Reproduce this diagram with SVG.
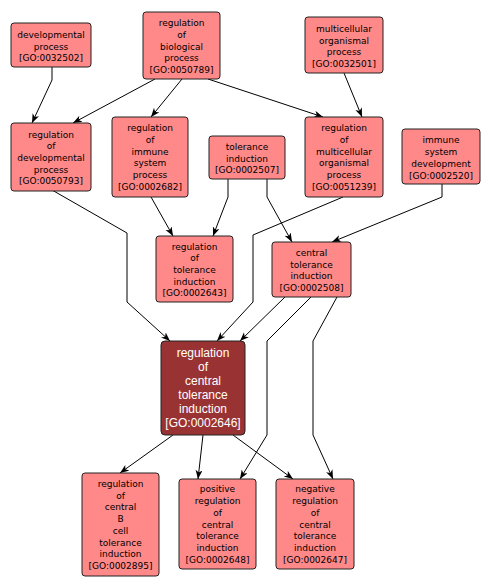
<svg xmlns="http://www.w3.org/2000/svg" width="490" height="588" viewBox="0 0 490 588">
<style>
.n rect{fill:#ff8888;stroke:#222;stroke-width:1}
.n text{font-family:"DejaVu Sans",sans-serif;font-size:9px;fill:#000;text-anchor:middle}
.m rect{fill:#993333;stroke:#222;stroke-width:1}
.m text{font-family:"Liberation Sans",Arial,sans-serif;font-size:12px;fill:#fff;text-anchor:middle}
.e path{fill:none;stroke:#000;stroke-width:1;marker-end:url(#a)}
</style>
<defs>
<marker id="a" markerUnits="userSpaceOnUse" markerWidth="10" markerHeight="8" refX="9" refY="3.5" orient="auto">
<path d="M0,0 L9,3.5 L0,7 L2.5,3.5 z" fill="#000"/>
</marker>
</defs>
<rect width="490" height="588" fill="#fff"/>
<g id="edges" class="e">
<path d="M52,67 L52,80 L32,123"/>
<path d="M155,79 L73,123"/>
<path d="M182,79 L151,117"/>
<path d="M208,79 L323,117"/>
<path d="M344,73 L362,117"/>
<path d="M52,190 L127,233 L127,302 L170,341"/>
<path d="M151,197 L173,236"/>
<path d="M228,179 L228,197 L213,236"/>
<path d="M267,179 L267,197 L292,242"/>
<path d="M442,184 L442,197 L332,242"/>
<path d="M343,197 L253,235 L253,302 L217,341"/>
<path d="M285,297 L240,341"/>
<path d="M311,297 L267,341 L267,435 L240,479"/>
<path d="M337,297 L313,341 L313,435 L333,479"/>
<path d="M173,435 L120,473"/>
<path d="M203,435 L198,479"/>
<path d="M233,435 L293,479"/>
</g>
<g id="GO0032502" class="n"><rect x="11" y="23" width="80" height="44" rx="3"/>
<text x="51" y="37.8">developmental</text><text x="51" y="49.5">process</text><text x="51" y="61.2">[GO:0032502]</text></g>
<g id="GO0050789" class="n"><rect x="143" y="12" width="77" height="67" rx="3"/>
<text x="181.5" y="26.1">regulation</text><text x="181.5" y="37.8">of</text><text x="181.5" y="49.5">biological</text><text x="181.5" y="61.2">process</text><text x="181.5" y="72.9">[GO:0050789]</text></g>
<g id="GO0032501" class="n"><rect x="305" y="17" width="78" height="56" rx="3"/>
<text x="344" y="31.9">multicellular</text><text x="344" y="43.6">organismal</text><text x="344" y="55.3">process</text><text x="344" y="67">[GO:0032501]</text></g>
<g id="GO0050793" class="n"><rect x="11" y="123" width="80" height="68" rx="3"/>
<text x="51" y="137.6">regulation</text><text x="51" y="149.3">of</text><text x="51" y="161">developmental</text><text x="51" y="172.7">process</text><text x="51" y="184.4">[GO:0050793]</text></g>
<g id="GO0002682" class="n"><rect x="112" y="117" width="76" height="80" rx="3"/>
<text x="150" y="131.3">regulation</text><text x="150" y="143">of</text><text x="150" y="154.7">immune</text><text x="150" y="166.4">system</text><text x="150" y="178.1">process</text><text x="150" y="189.8">[GO:0002682]</text></g>
<g id="GO0002507" class="n"><rect x="209" y="136" width="76" height="43" rx="3"/>
<text x="247" y="149.8">tolerance</text><text x="247" y="161.5">induction</text><text x="247" y="173.2">[GO:0002507]</text></g>
<g id="GO0051239" class="n"><rect x="305" y="117" width="78" height="80" rx="3"/>
<text x="344" y="131.3">regulation</text><text x="344" y="143">of</text><text x="344" y="154.7">multicellular</text><text x="344" y="166.4">organismal</text><text x="344" y="178.1">process</text><text x="344" y="189.8">[GO:0051239]</text></g>
<g id="GO0002520" class="n"><rect x="402" y="129" width="78" height="55" rx="3"/>
<text x="441" y="143.4">immune</text><text x="441" y="155.1">system</text><text x="441" y="166.8">development</text><text x="441" y="178.5">[GO:0002520]</text></g>
<g id="GO0002643" class="n"><rect x="156" y="236" width="77" height="66" rx="3"/>
<text x="194.5" y="249.6">regulation</text><text x="194.5" y="261.3">of</text><text x="194.5" y="273">tolerance</text><text x="194.5" y="284.7">induction</text><text x="194.5" y="296.4">[GO:0002643]</text></g>
<g id="GO0002508" class="n"><rect x="272" y="242" width="79" height="55" rx="3"/>
<text x="311.5" y="256">central</text><text x="311.5" y="267.7">tolerance</text><text x="311.5" y="279.4">induction</text><text x="311.5" y="291.1">[GO:0002508]</text></g>
<g id="GO0002646" class="m"><rect x="161" y="341" width="84" height="94" rx="4"/>
<text x="203" y="357.2">regulation</text><text x="203" y="371.2">of</text><text x="203" y="385.2">central</text><text x="203" y="399.2">tolerance</text><text x="203" y="413.2">induction</text><text x="203" y="427.2">[GO:0002646]</text></g>
<g id="GO0002895" class="n"><rect x="82" y="473" width="77" height="103" rx="3"/>
<text x="120.5" y="487">regulation</text><text x="120.5" y="498.7">of</text><text x="120.5" y="510.4">central</text><text x="120.5" y="522.1">B</text><text x="120.5" y="533.8">cell</text><text x="120.5" y="545.5">tolerance</text><text x="120.5" y="557.2">induction</text><text x="120.5" y="568.9">[GO:0002895]</text></g>
<g id="GO0002648" class="n"><rect x="179" y="479" width="77" height="90" rx="3"/>
<text x="217.5" y="492.4">positive</text><text x="217.5" y="504.1">regulation</text><text x="217.5" y="515.8">of</text><text x="217.5" y="527.5">central</text><text x="217.5" y="539.2">tolerance</text><text x="217.5" y="550.9">induction</text><text x="217.5" y="562.6">[GO:0002648]</text></g>
<g id="GO0002647" class="n"><rect x="276" y="479" width="78" height="90" rx="3"/>
<text x="315" y="492.4">negative</text><text x="315" y="504.1">regulation</text><text x="315" y="515.8">of</text><text x="315" y="527.5">central</text><text x="315" y="539.2">tolerance</text><text x="315" y="550.9">induction</text><text x="315" y="562.6">[GO:0002647]</text></g>
</svg>
